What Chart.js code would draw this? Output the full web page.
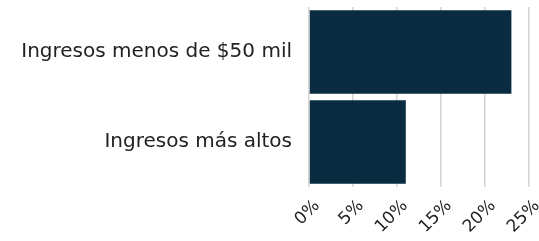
<!DOCTYPE html>
<html>
<head>
<meta charset="utf-8">
<script src="https://cdn.jsdelivr.net/npm/chart.js@4/dist/chart.umd.min.js"></script>
<style>
  html, body { margin: 0; padding: 0; background: #fff; }
  #wrap { width: 539px; height: 241px; }
</style>
</head>
<body>
<div id="wrap"><canvas id="chart" width="539" height="241"></canvas></div>
<script>
// ── Data ──────────────────────────────────────────────────────────
const categories = ['Ingresos menos de $50 mil', 'Ingresos más altos'];
const shareValues = [23, 11];
const tickValues = [0, 5, 10, 15, 20, 25];

const FONT = '"DejaVu Sans", sans-serif';

// ── Chart ─────────────────────────────────────────────────────────
new Chart(document.getElementById('chart'), {
    type: 'bar',
    data: {
        labels: categories,
        datasets: [{
            data: shareValues,
            backgroundColor: '#092c40',
            borderWidth: 0,
            barPercentage: 0.93,
            categoryPercentage: 1
        }]
    },
    options: {
        indexAxis: 'y',
        responsive: false,
        animation: false,
        layout: { padding: { top: 7, right: 10, left: 0, bottom: 0 } },
        plugins: { legend: { display: false }, tooltip: { enabled: false } },
        scales: {
            x: {
                min: tickValues[0],
                max: tickValues[tickValues.length - 1],
                afterBuildTicks: axis => { axis.ticks = tickValues.map(v => ({ value: v })); },
                afterFit: axis => {
                    axis.height = 54;
                    axis.paddingLeft = 0;
                    axis.paddingRight = 0;
                },
                border: { display: false },
                grid: { color: '#d4d4d4', lineWidth: 1.5, drawTicks: false },
                ticks: {
                    callback: v => v + '%',
                    minRotation: 45, maxRotation: 45,
                    labelOffset: 8,
                    padding: 9,
                    color: '#222',
                    font: { family: FONT, size: 17 }
                }
            },
            y: {
                afterFit: axis => {
                    axis.width = 309;
                    axis.paddingTop = 0;
                    axis.paddingBottom = 0;
                },
                border: { display: false },
                grid: { display: false },
                ticks: {
                    padding: 9,
                    color: '#222',
                    font: { family: FONT, size: 20 }
                }
            }
        }
    }
});
</script>
</body>
</html>
